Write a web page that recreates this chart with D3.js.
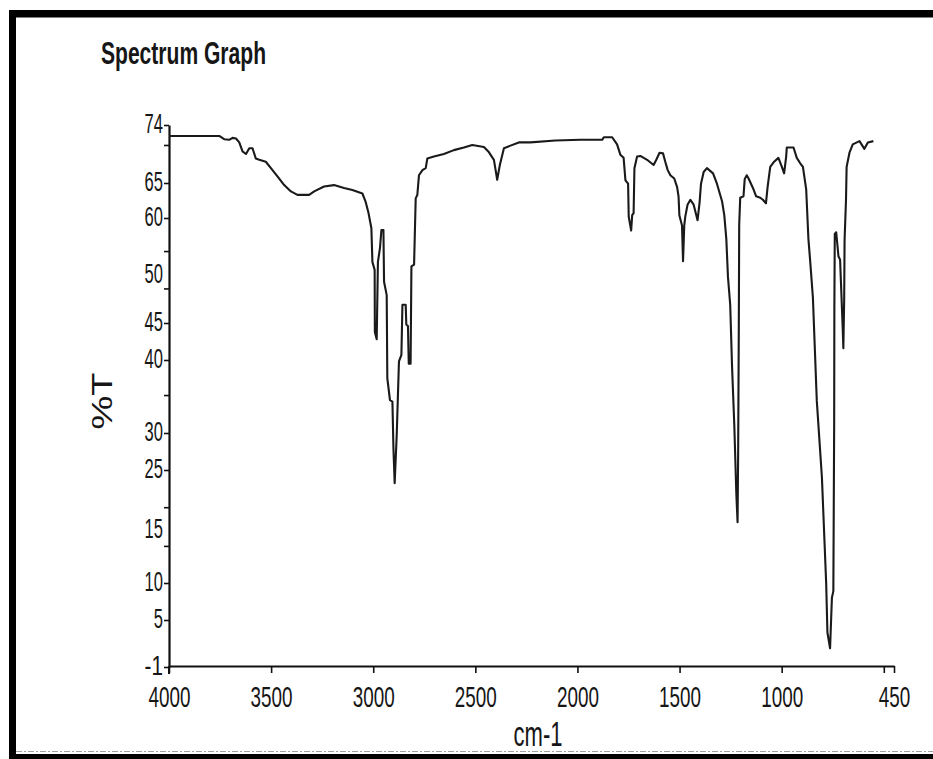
<!DOCTYPE html>
<html><head><meta charset="utf-8">
<script src="https://cdn.jsdelivr.net/npm/d3@7"></script>
<style>
html,body{margin:0;padding:0;background:#fff;}
svg{display:block;}
text{font-family:"Liberation Sans Narrow","Liberation Sans",Arial,sans-serif;fill:#161616;}
</style></head><body>
<svg id="chart" width="933" height="759"></svg>
<script>
// ---------- data ----------
const wavenumber = [4000,3754,3730,3705,3689,3672,3656,3640,3623,3607,3591,3575,3558,3526,3501,3468,3436,3403,3371,3314,3289,3241,3192,3143,3102,3053,3037,3023,3009,3004,2993,2992,2983,2977,2967,2960,2950,2947,2934,2931,2918,2906,2901,2895,2885,2874,2862,2857,2841,2838,2830,2826,2817,2813,2800,2792,2784,2776,2759,2743,2735,2703,2654,2605,2556,2515,2458,2434,2409,2393,2380,2360,2328,2287,2230,2108,
1985,1879,1871,1830,1806,1790,1774,1765,1752,1749,1737,1732,1725,1721,1708,1692,1659,1627,1614,1598,1581,1570,1558,1545,1526,1512,1505,1501,1488,1483,1477,1472,1461,1447,1431,1418,1412,1402,1395,1382,1366,1336,1317,1292,1281,1271,1263,1252,1243,1232,1222,1216,1213,1210,1208,1203,1187,1181,1171,1162,1138,1125,1105,1092,1077,1069,1056,1037,1016,999,988,978,975,942,926,910,896,880,869,861,847,828,803,782,776,763,754,747,743,742,740,733,722,714,701,698,694,692,685,682,668,652,619,595,578,551];
const transmittance = [72.3,72.3,71.8,71.7,72.0,71.9,71.3,69.9,69.5,70.4,70.4,68.8,68.6,68.3,67.3,66.0,64.7,63.8,63.3,63.3,63.8,64.5,64.7,64.3,64.0,63.5,62.3,60.7,58.2,52.3,50.9,43.8,42.8,52.3,54.7,57.9,57.9,49.3,47.9,37.5,34.5,34.3,27.9,22.8,29.7,39.8,40.7,46.9,46.9,44.8,44.6,39.5,39.5,51.5,51.8,62.8,63.3,66.2,67.0,67.3,68.8,69.1,69.5,70.1,70.5,70.9,70.6,69.8,68.6,65.5,67.8,70.4,70.8,71.3,71.3,71.6,
71.7,71.7,72.1,72.1,71.0,69.4,68.9,65.4,64.9,60.2,57.8,60.4,60.7,67.3,69.1,69.2,68.6,67.8,68.6,69.7,69.6,68.3,67.0,66.2,65.7,64.4,63.1,60.4,58.7,52.4,58.7,60.2,61.9,62.6,61.9,60.4,59.6,62.2,64.9,66.7,67.3,66.5,64.9,62.4,60.4,56.3,49.8,46.9,39.1,31.1,21.0,16.3,27.7,44.1,58.8,62.9,63.1,65.6,66.2,65.7,64.1,63.1,62.9,62.6,62.1,64.4,67.5,68.3,68.9,67.5,66.5,69.1,70.5,70.5,68.9,68.1,67.5,64.1,56.3,52.7,47.6,34.4,23.8,9.9,3.4,1.4,8.0,8.9,31.1,46.6,57.2,57.5,53.3,52.7,44.2,41.6,47.4,56.1,62.6,67.5,69.7,71.0,71.5,70.3,71.3,71.5];
const xTickValues = [4000,3500,3000,2500,2000,1500,1000,500,450];
const xTickLabels = [4000,3500,3000,2500,2000,1500,1000,450];
const yTickLabels = [74,65,60,50,45,40,30,25,15,10,5,-1];
const yTickMarks = [74,70.9,65,60,54.2,48.6,45,40,35.2,30,25,18.8,13.5,10,5,-1];
const titleText = "Spectrum Graph";
const xTitle = "cm-1";
const yTitle = "%T";

// ---------- layout ----------
const W = 933, H = 759;
const xRange = [169, 894];
const axisY = 666;
// the printed %T axis is not uniform: label positions on the page
const yLabelPos = [125,183,218,275,323,360,433,470,530,583,620,667];
const FONT = '"Liberation Sans Narrow","Liberation Sans",Arial,sans-serif';

const svg = d3.select('#chart');
svg.append('rect').attr('width', W).attr('height', H).attr('fill', '#fff');

const x = d3.scaleLinear().domain([4000, 450]).range(xRange);
const y = d3.scaleLinear().domain(yTickLabels).range(yLabelPos);

// frame of the scanned page
svg.append('rect').attr('x', 9).attr('y', 10).attr('width', W - 9).attr('height', 7.5).attr('fill', '#000');
svg.append('rect').attr('x', 9).attr('y', 10).attr('width', 7).attr('height', H - 10).attr('fill', '#000');
svg.append('rect').attr('x', 9).attr('y', 754).attr('width', W - 9).attr('height', 5).attr('fill', '#000');
svg.append('line').attr('x1', 16).attr('x2', W).attr('y1', 751.5).attr('y2', 751.5)
  .attr('stroke', '#a0a0a0').attr('stroke-width', 1).attr('stroke-dasharray', '6 2 2 2');

// title
svg.append('text').attr('x', 101).attr('y', 64).attr('font-size', 31).attr('font-weight', 'bold')
  .attr('textLength', 165).attr('lengthAdjust', 'spacingAndGlyphs').text(titleText);

// x axis
const gx = svg.append('g').attr('transform', `translate(0,${axisY})`)
  .call(d3.axisBottom(x).tickValues(xTickValues).tickSize(7).tickSizeOuter(0)
    .tickFormat(d => xTickLabels.includes(d) ? String(d) : ''));
gx.select('.domain').attr('stroke', '#111').attr('stroke-width', 2.2);
gx.selectAll('.tick line').attr('stroke', '#111').attr('stroke-width', 1.6);
gx.selectAll('.tick text').attr('y', 41).attr('dy', 0).attr('font-size', 30)
  .attr('font-family', FONT).attr('fill', '#161616')
  .each(function(){ const t = this.textContent; if (t) d3.select(this).attr('textLength', t.length * 10.5).attr('lengthAdjust', 'spacingAndGlyphs'); });

// y axis (tick marks)
const gy = svg.append('g').attr('transform', `translate(${xRange[0]},0)`)
  .call(d3.axisLeft(y).tickValues(yTickMarks).tickSize(5).tickSizeOuter(0).tickFormat(''));
gy.select('.domain').attr('stroke', '#111').attr('stroke-width', 2.2);
gy.selectAll('.tick line').attr('stroke', '#111').attr('stroke-width', 1.6);
svg.append('line').attr('x1', xRange[0]).attr('x2', xRange[0]).attr('y1', axisY).attr('y2', axisY + 8)
  .attr('stroke', '#111').attr('stroke-width', 2);

// y axis labels
const gyl = svg.append('g').attr('transform', `translate(${xRange[0]},0)`)
  .call(d3.axisLeft(y).tickValues(yTickLabels).tickSize(0).tickPadding(6).tickFormat(d => String(d)));
gyl.select('.domain').remove();
gyl.selectAll('.tick text').attr('font-size', 28).attr('dy', 0).attr('y', 7)
  .attr('font-family', FONT).attr('fill', '#161616')
  .each(function(){ const t = this.textContent; d3.select(this).attr('textLength', t.length * 9.2).attr('lengthAdjust', 'spacingAndGlyphs'); });

// axis titles
svg.append('text').attr('x', 538).attr('y', 746).attr('text-anchor', 'middle').attr('font-size', 35)
  .attr('textLength', 49).attr('lengthAdjust', 'spacingAndGlyphs').text(xTitle);
svg.append('text').attr('transform', 'translate(112,401) rotate(-90)').attr('text-anchor', 'middle')
  .attr('font-size', 29).attr('textLength', 57).attr('lengthAdjust', 'spacingAndGlyphs').text(yTitle);

// spectrum trace
const pts = wavenumber.map((w, i) => [w, transmittance[i]]);
svg.append('path').datum(pts)
  .attr('fill', 'none').attr('stroke', '#1a1a1a').attr('stroke-width', 2.1).attr('stroke-linejoin', 'round')
  .attr('d', d3.line().x(d => x(d[0])).y(d => y(d[1])));
</script>
</body></html>
